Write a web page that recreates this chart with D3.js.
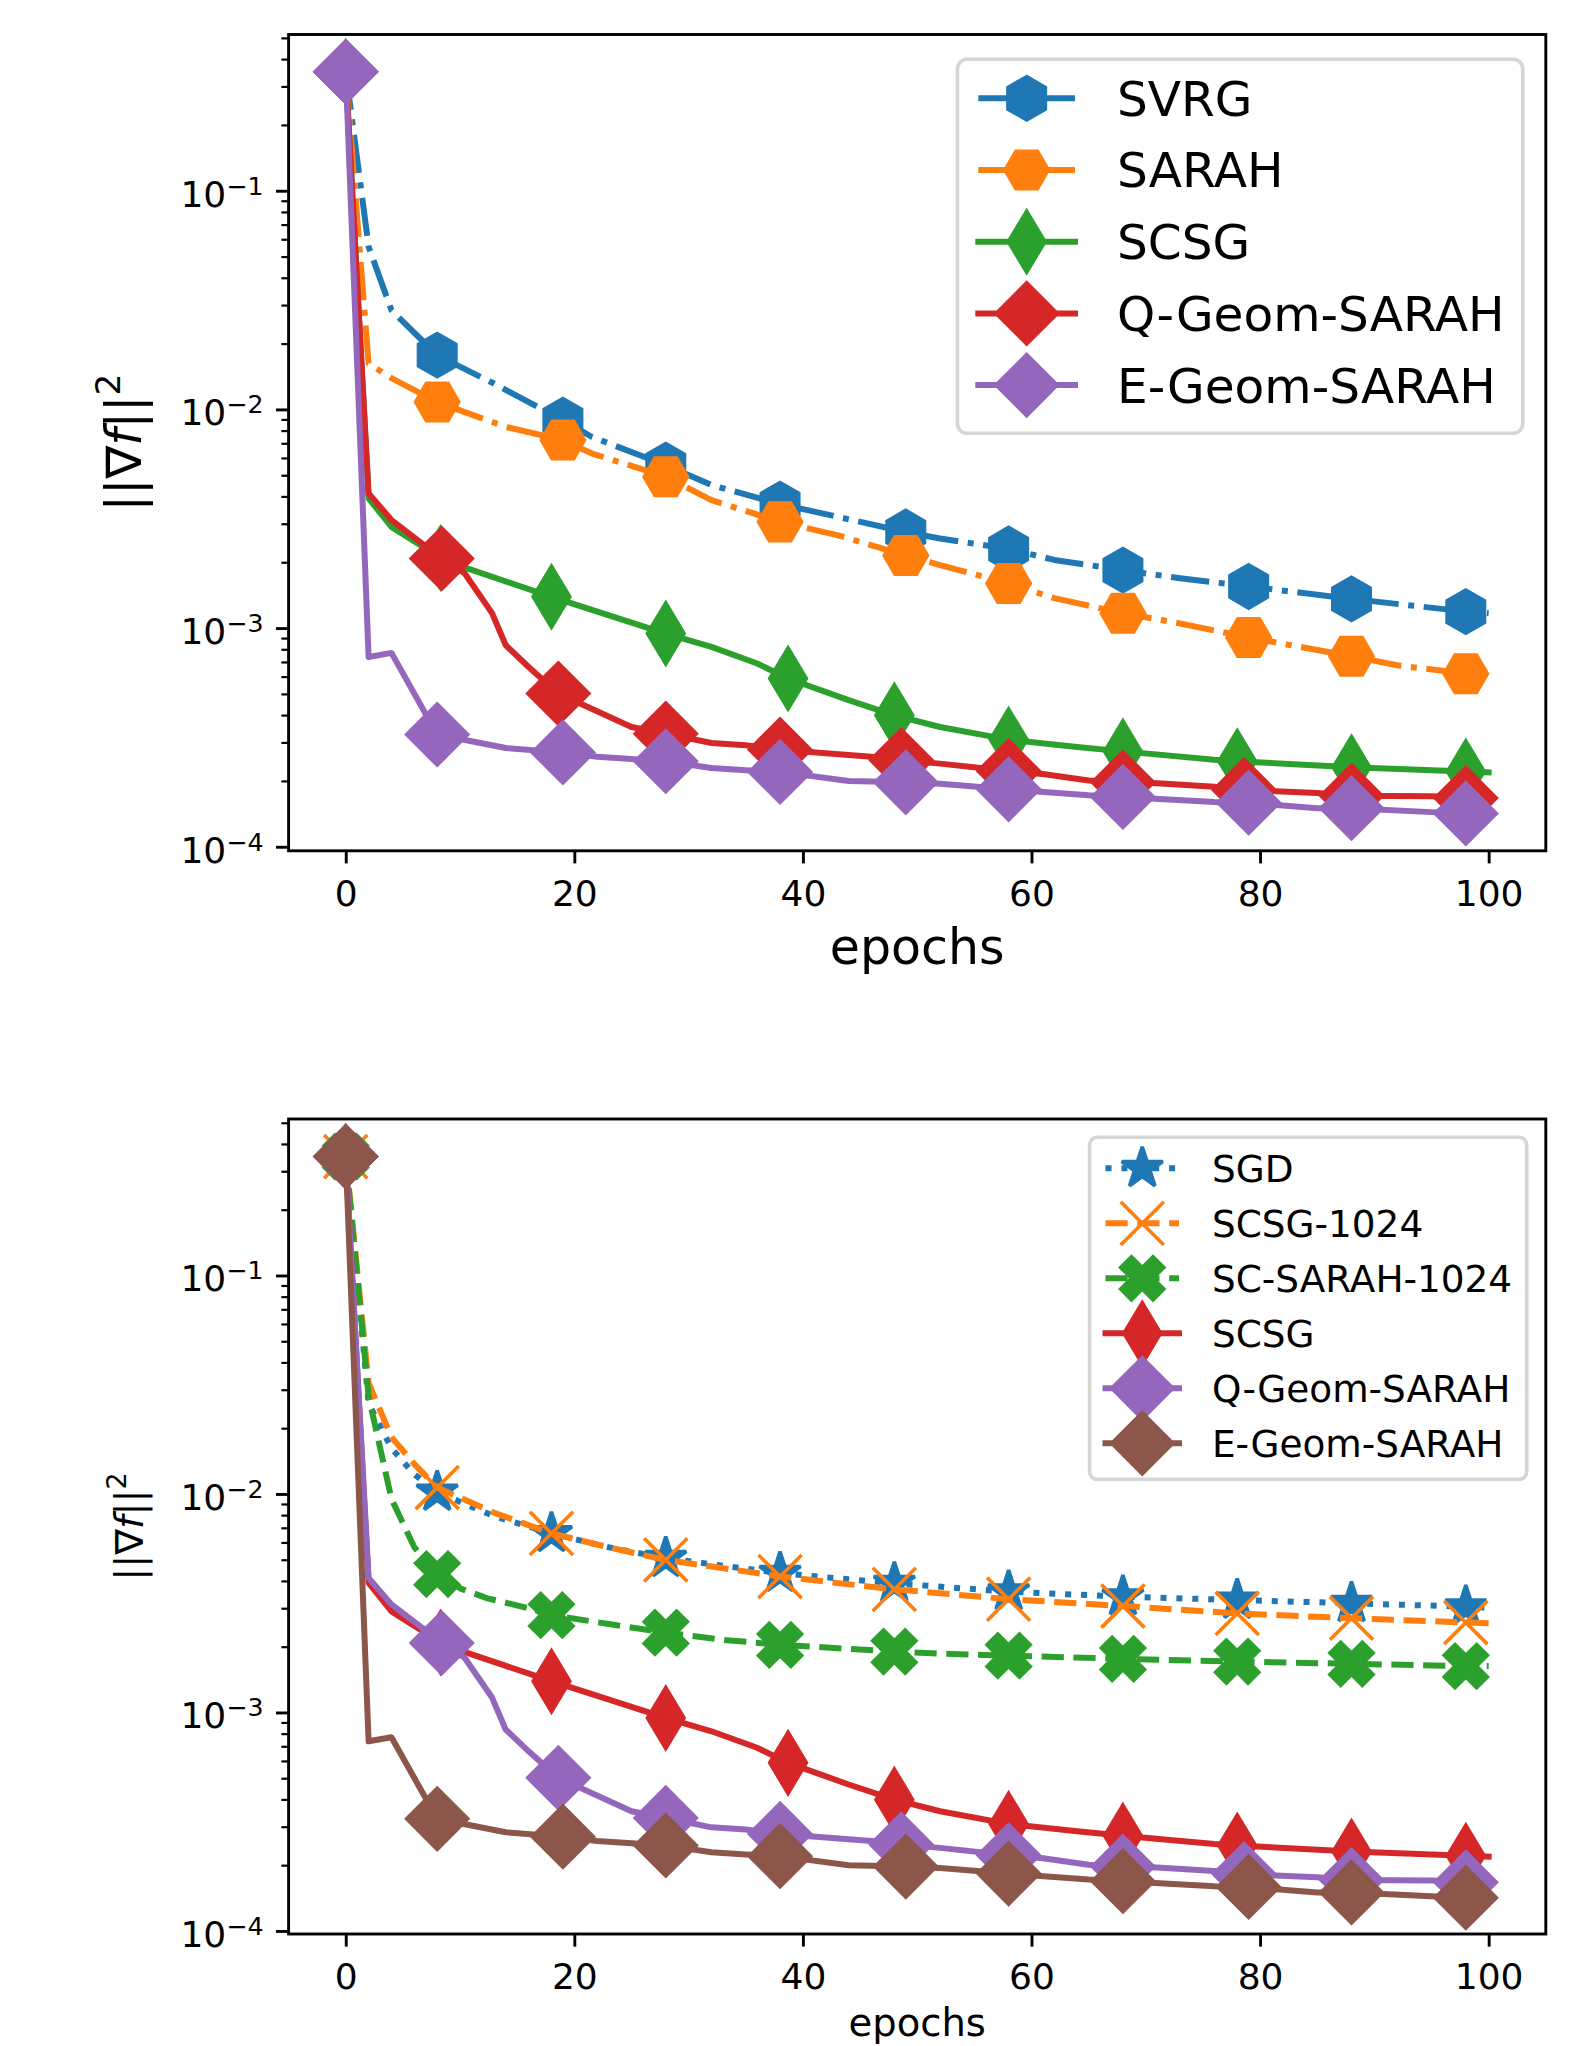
<!DOCTYPE html>
<html>
<head>
<meta charset="utf-8">
<script src="https://cdn.jsdelivr.net/npm/d3@7"></script>
<style>
  body { margin: 0; background: #fff; }
  text { font-family: "DejaVu Sans", sans-serif; fill: #000; }
</style>
</head>
<body>
<div id="chart"></div>
<script>
// ---- data (epochs, ||grad f||^2) ----
const svrgX = [0, 2, 4, 8, 13, 19, 21.5, 28, 32, 38, 43, 49, 52, 58, 62, 68, 73, 79, 88, 98, 100];
const svrgY = [0.35, 0.0555, 0.0284, 0.0177, 0.0131, 0.00893, 0.0075, 0.00556, 0.00451, 0.00369, 0.00323, 0.00275, 0.00257, 0.0023, 0.00205, 0.00184, 0.00169, 0.00155, 0.00136, 0.00119, 0.00117];
const svrgMarks = [0, 3, 5, 7, 9, 11, 13, 15, 17, 18, 19];

const sarahX = [0, 2, 4, 8, 14, 19, 21.5, 28, 32, 38, 43, 49, 52, 58, 62, 68, 73, 79, 88, 92, 98, 100];
const sarahY = [0.35, 0.0162, 0.0139, 0.0108, 0.00832, 0.00724, 0.0063, 0.00492, 0.00385, 0.00306, 0.00266, 0.00215, 0.00194, 0.0016, 0.00137, 0.00117, 0.00105, 0.000906, 0.000743, 0.000676, 0.000619, 0.000605];
const sarahMarks = [0, 3, 5, 7, 9, 11, 13, 15, 17, 18, 20];

const scsgX = [0, 2, 4, 8.3, 10.7, 18, 28, 32, 36, 38.7, 44, 48, 52, 58, 64, 68, 76, 78, 88, 98, 100];
const scsgY = [0.35, 0.00392, 0.0029, 0.00209, 0.00187, 0.00139, 0.000944, 0.00082, 0.000689, 0.000588, 0.000468, 0.000399, 0.000353, 0.000309, 0.000286, 0.000273, 0.00025, 0.000246, 0.000231, 0.000221, 0.000219];
const scsgMarks = [0, 3, 5, 6, 9, 11, 13, 15, 17, 18, 19];

const qgeomX = [0, 2, 4, 8.4, 10.4, 12.8, 14, 16, 18.6, 25, 28, 32, 35, 38, 46, 48.6, 52, 58, 61, 65, 68, 71, 76, 78.6, 85, 88, 95, 98, 100];
const qgeomY = [0.35, 0.00413, 0.00312, 0.00208, 0.00178, 0.00117, 0.000835, 0.000664, 0.000502, 0.000353, 0.000329, 0.000298, 0.000291, 0.000278, 0.000258, 0.000249, 0.00024, 0.000222, 0.000215, 0.000201, 0.000197, 0.000195, 0.000188, 0.000182, 0.000176, 0.000171, 0.00017, 0.000167, 0.000164];
const qgeomMarks = [0, 3, 8, 10, 13, 15, 17, 20, 23, 25, 27];

const egeomX = [0, 2, 4, 8, 14, 19, 22, 28, 32, 35, 38, 44, 49, 52, 58, 65, 68, 76, 79, 85, 88, 95, 98, 100];
const egeomY = [0.35, 0.000738, 0.00077, 0.000326, 0.000283, 0.00027, 0.000258, 0.000246, 0.000229, 0.000224, 0.00022, 0.0002, 0.000197, 0.000194, 0.000183, 0.000172, 0.000169, 0.00016, 0.000159, 0.00015, 0.00015, 0.000144, 0.000142, 0.00014];
const egeomMarks = [0, 3, 5, 7, 10, 12, 14, 16, 18, 20, 22];

const sgdX = [0, 2, 4, 6, 8, 13, 18, 23, 28, 38, 48, 58, 68, 78, 88, 98, 100];
const sgdY = [0.35, 0.026, 0.0162, 0.0123, 0.0102, 0.0079, 0.0066, 0.0057, 0.00508, 0.00434, 0.0039, 0.00357, 0.00339, 0.00327, 0.00316, 0.00305, 0.00302];
const sgdMarks = [0, 4, 6, 8, 9, 10, 11, 12, 13, 14, 15];

const scsg1024X = [0, 2, 4, 6, 8, 13, 18, 23, 28, 38, 48, 58, 68, 78, 88, 98, 100];
const scsg1024Y = [0.35, 0.0322, 0.0182, 0.0137, 0.0107, 0.0082, 0.0066, 0.0057, 0.00499, 0.00419, 0.00366, 0.0033, 0.00307, 0.00284, 0.0027, 0.00258, 0.00256];
const scsg1024Marks = [0, 4, 6, 8, 9, 10, 11, 12, 13, 14, 15];

const scsarahX = [0, 2, 4, 6, 8, 10, 12.4, 16, 18, 23, 28, 33, 38, 48, 53, 58, 68, 78, 88, 98, 100];
const scsarahY = [0.35, 0.028, 0.0095, 0.0057, 0.0043, 0.0037, 0.00333, 0.003, 0.00279, 0.00254, 0.00232, 0.00215, 0.00204, 0.0019, 0.00185, 0.00182, 0.00176, 0.00171, 0.00167, 0.00163, 0.00163];
const scsarahMarks = [0, 4, 8, 10, 12, 13, 15, 16, 17, 18, 19];

const X_TICKS = [0, 20, 40, 60, 80, 100];
const Y_TICKS = [1e-4, 1e-3, 1e-2, 1e-1];

// ---- frame ----
const FRAME_WIDTH = 1576;
const FRAME_HEIGHT = 2046;
const LEFT = 288.6, RIGHT = 1545.8;
const LW = 6, MS = 43.2, MEW = 3.6;

// matplotlib dash patterns, scaled by the line width
const DASHDOT = [6.4, 1.6, 1, 1.6].map(v => v * LW).join(",");
const DASHED = [3.7, 1.6].map(v => v * LW).join(",");
const DOTTED = [1, 1.65].map(v => v * LW).join(",");

const FRAME = d3.select("#chart")
    .append("svg")
    .attr("width", FRAME_WIDTH)
    .attr("height", FRAME_HEIGHT);

const X_SCALE = d3.scaleLinear().domain([-5, 105]).range([LEFT, RIGHT]);

// matplotlib-like marker shapes, drawn through d3.symbol
function poly(ctx, pts) {
    ctx.moveTo(pts[0][0], pts[0][1]);
    pts.slice(1).forEach(p => ctx.lineTo(p[0], p[1]));
    ctx.closePath();
}
function ring(n, r, start) {
    return d3.range(n).map(k => {
        const a = start + k * 2 * Math.PI / n;
        return [r * Math.cos(a), -r * Math.sin(a)];
    });
}
const SYMBOLS = {
    h: { draw: (ctx, s) => poly(ctx, ring(6, s / 2, Math.PI / 2)) },
    H: { draw: (ctx, s) => poly(ctx, ring(6, s / 2, 0)) },
    D: { draw: (ctx, s) => { const r = s * Math.SQRT1_2; poly(ctx, [[0, -r], [r, 0], [0, r], [-r, 0]]); } },
    d: { draw: (ctx, s) => { const r = s * Math.SQRT1_2; poly(ctx, [[0, -r], [0.6 * r, 0], [0, r], [-0.6 * r, 0]]); } },
    star: { draw: (ctx, s) => poly(ctx, d3.range(10).map(k => {
        const r = (k % 2 ? 0.381966 : 1) * s / 2, a = Math.PI / 2 + k * Math.PI / 5;
        return [r * Math.cos(a), -r * Math.sin(a)];
    })) },
    X: { draw: (ctx, s) => poly(ctx, [[-1, -2], [0, -1], [1, -2], [2, -1], [1, 0], [2, 1], [1, 2], [0, 1], [-1, 2], [-2, 1], [-1, 0], [-2, -1]]
        .map(p => [p[0] * s / 4, p[1] * s / 4])) },
    x: { draw: (ctx, s) => {
        const r = s / 2;
        ctx.moveTo(-r, -r); ctx.lineTo(r, r);
        ctx.moveTo(-r, r); ctx.lineTo(r, -r);
    } }
};

function styleMarker(sel, s) {
    const filled = s.symbol !== "x";
    sel.attr("d", d3.symbol(SYMBOLS[s.symbol], MS))
        .attr("fill", filled ? s.color : "none")
        .attr("stroke", s.color)
        .attr("stroke-width", MEW)
        .attr("stroke-linejoin", s.symbol === "star" ? "bevel" : "miter")
        .attr("stroke-linecap", "butt");
}
function styleLine(sel, s) {
    sel.attr("fill", "none")
        .attr("stroke", s.color)
        .attr("stroke-width", LW)
        .attr("stroke-linejoin", "round")
        .attr("stroke-linecap", s.dash ? "butt" : "square")
        .attr("stroke-dasharray", s.dash);
}

function buildPanel(cfg) {
    const Y_SCALE = d3.scaleLog().domain(cfg.yDomain).range([cfg.bottom, cfg.top]);
    const g = FRAME.append("g");

    // minor ticks on the log axis
    g.append("g")
        .attr("transform", "translate(" + LEFT + ",0)")
        .call(d3.axisLeft(Y_SCALE)
            .tickValues(Y_SCALE.ticks().filter(v => Y_TICKS.indexOf(v) < 0))
            .tickSize(7.2).tickFormat(""))
        .call(a => a.select(".domain").remove())
        .selectAll("line").attr("stroke-width", 2.2);

    // major y ticks with 10^k labels
    const yAxis = g.append("g")
        .attr("transform", "translate(" + LEFT + ",0)")
        .call(d3.axisLeft(Y_SCALE).tickValues(Y_TICKS).tickSize(12.6).tickPadding(12.6).tickFormat(""));
    yAxis.select(".domain").remove();
    yAxis.selectAll("line").attr("stroke-width", 2.9);
    yAxis.selectAll("text")
        .attr("font-size", 36)
        .attr("font-family", "DejaVu Sans")
        .attr("dy", 15.5)
        .each(function (d) {
            const t = d3.select(this);
            t.append("tspan").text("10");
            t.append("tspan").attr("dy", -12).attr("font-size", 25.2)
                .text("\u2212" + Math.round(-Math.log10(d)));
        });

    // x ticks
    const xAxis = g.append("g")
        .attr("transform", "translate(0," + cfg.bottom + ")")
        .call(d3.axisBottom(X_SCALE).tickValues(X_TICKS).tickSize(12.6).tickPadding(16.8).tickFormat(d3.format("d")));
    xAxis.select(".domain").remove();
    xAxis.selectAll("line").attr("stroke-width", 2.9);
    xAxis.selectAll("text").attr("font-size", 36).attr("font-family", "DejaVu Sans");

    // series: line first, then its markers
    const line = d3.line().x(d => X_SCALE(d[0])).y(d => Y_SCALE(d[1]));
    cfg.series.forEach(s => {
        const pts = s.x.map((v, i) => [v, s.y[i]]);
        g.append("path").datum(pts).attr("d", line).call(styleLine, s);
        g.selectAll(null)
            .data(s.marks.map(i => pts[i]))
            .enter()
            .append("path")
            .attr("transform", d => "translate(" + X_SCALE(d[0]) + "," + Y_SCALE(d[1]) + ")")
            .call(styleMarker, s);
    });

    // spines
    g.append("rect")
        .attr("x", LEFT).attr("y", cfg.top)
        .attr("width", RIGHT - LEFT).attr("height", cfg.bottom - cfg.top)
        .attr("fill", "none").attr("stroke", "#000").attr("stroke-width", 2.9);

    // legend
    const L = cfg.legend;
    g.append("rect")
        .attr("x", L.x0).attr("y", L.y0)
        .attr("width", L.x1 - L.x0).attr("height", L.y1 - L.y0)
        .attr("rx", 0.2 * L.fs)
        .attr("fill", "#fff").attr("fill-opacity", 0.8)
        .attr("stroke", "#cccccc").attr("stroke-opacity", 0.8).attr("stroke-width", 3.6);
    cfg.series.forEach((s, i) => {
        const cy = L.row0 + i * L.step;
        g.append("path").attr("d", "M" + L.h0 + "," + cy + "H" + L.h1).call(styleLine, s);
        g.append("path")
            .attr("transform", "translate(" + ((L.h0 + L.h1) / 2) + "," + cy + ")")
            .call(styleMarker, s);
        g.append("text")
            .attr("x", L.tx).attr("y", cy + 0.36 * L.fs)
            .attr("font-size", L.fs)
            .text(s.name);
    });

    // axis labels
    g.append("text")
        .attr("x", (LEFT + RIGHT) / 2).attr("y", cfg.xlabelY)
        .attr("text-anchor", "middle")
        .attr("font-size", cfg.labelFs)
        .text("epochs");

    const yl = g.append("text")
        .attr("transform", "translate(" + cfg.ylabelX + "," + ((cfg.top + cfg.bottom) / 2) + ") rotate(-90)")
        .attr("text-anchor", "middle")
        .attr("font-size", cfg.labelFs);
    yl.append("tspan").text("||\u2207");
    yl.append("tspan").attr("font-style", "italic").text("f");
    yl.append("tspan").text("||");
    yl.append("tspan").attr("dy", -0.42 * cfg.labelFs).attr("font-size", 0.7 * cfg.labelFs).text("2");
}

const C = { blue: "#1f77b4", orange: "#ff7f0e", green: "#2ca02c", red: "#d62728", purple: "#9467bd", brown: "#8c564b" };

buildPanel({
    top: 34.5, bottom: 850.8,
    yDomain: [Math.pow(10, -4.0185), Math.pow(10, -0.2855)],
    xlabelY: 964, ylabelX: 140.5, labelFs: 49,
    legend: { x0: 957.4, x1: 1522.8, y0: 59.3, y1: 433.3, fs: 48.6, row0: 98.3, step: 71.7, h0: 978.3, h1: 1075, tx: 1117 },
    series: [
        { name: "SVRG", x: svrgX, y: svrgY, marks: svrgMarks, color: C.blue, dash: DASHDOT, symbol: "h" },
        { name: "SARAH", x: sarahX, y: sarahY, marks: sarahMarks, color: C.orange, dash: DASHDOT, symbol: "H" },
        { name: "SCSG", x: scsgX, y: scsgY, marks: scsgMarks, color: C.green, dash: null, symbol: "d" },
        { name: "Q-Geom-SARAH", x: qgeomX, y: qgeomY, marks: qgeomMarks, color: C.red, dash: null, symbol: "D" },
        { name: "E-Geom-SARAH", x: egeomX, y: egeomY, marks: egeomMarks, color: C.purple, dash: null, symbol: "D" }
    ]
});

buildPanel({
    top: 1119, bottom: 1934,
    yDomain: [Math.pow(10, -4.014), Math.pow(10, -0.2838)],
    xlabelY: 2036, ylabelX: 142.5, labelFs: 38.5,
    legend: { x0: 1089.6, x1: 1526.7, y0: 1137.3, y1: 1479.3, fs: 37.4, row0: 1168.3, step: 55, h0: 1105.5, h1: 1179, tx: 1212 },
    series: [
        { name: "SGD", x: sgdX, y: sgdY, marks: sgdMarks, color: C.blue, dash: DOTTED, symbol: "star" },
        { name: "SCSG-1024", x: scsg1024X, y: scsg1024Y, marks: scsg1024Marks, color: C.orange, dash: DASHED, symbol: "x" },
        { name: "SC-SARAH-1024", x: scsarahX, y: scsarahY, marks: scsarahMarks, color: C.green, dash: DASHED, symbol: "X" },
        { name: "SCSG", x: scsgX, y: scsgY, marks: scsgMarks, color: C.red, dash: null, symbol: "d" },
        { name: "Q-Geom-SARAH", x: qgeomX, y: qgeomY, marks: qgeomMarks, color: C.purple, dash: null, symbol: "D" },
        { name: "E-Geom-SARAH", x: egeomX, y: egeomY, marks: egeomMarks, color: C.brown, dash: null, symbol: "D" }
    ]
});
</script>
</body>
</html>
